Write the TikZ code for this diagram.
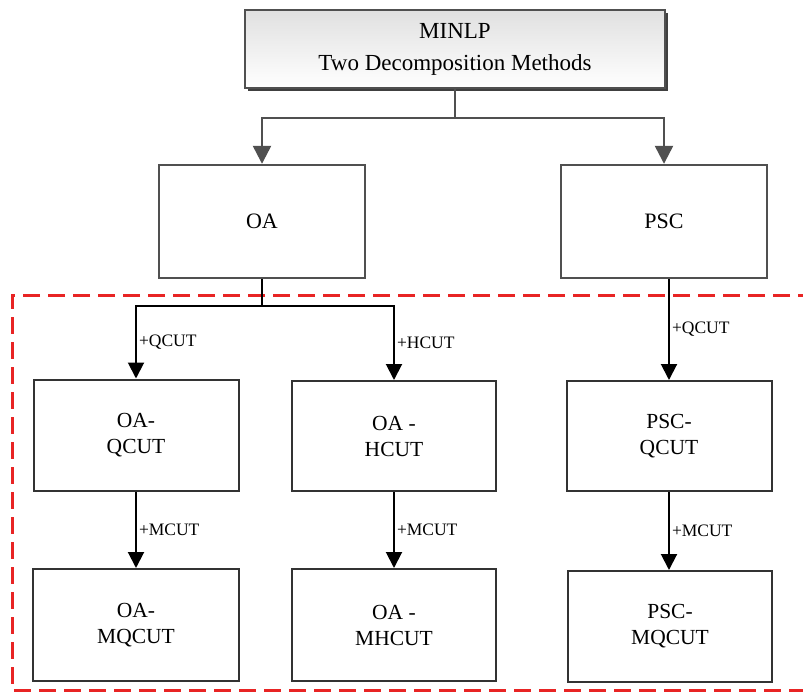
\documentclass[tikz,border=0pt]{standalone}
\usepackage{fontspec}
\setmainfont{Liberation Serif}
\usetikzlibrary{arrows.meta,shadows}
\definecolor{framered}{RGB}{232,36,36}
\definecolor{topgray}{RGB}{80,80,80}
\begin{document}
\begin{tikzpicture}[x=1pt,y=-1pt,
  topbox/.style={draw=topgray,line width=2.4pt,fill=white,inner sep=0pt,
    minimum width=206pt,minimum height=113pt,align=center,
    font=\fontsize{22}{26}\selectfont},
  cutbox/.style={draw=black!80,line width=2pt,fill=white,inner sep=0pt,
    minimum width=205pt,minimum height=111pt,align=center,
    font=\fontsize{21.5}{26}\selectfont},
  toparrow/.style={draw=topgray,line width=2.4pt,
    -{Triangle[width=18pt,length=18pt]}},
  cutarrow/.style={draw=black,line width=2pt,
    -{Triangle[width=16pt,length=16pt]}},
  cutlabel/.style={right,inner sep=2pt,font=\fontsize{17.5}{20}\selectfont}]
\useasboundingbox (0,0) rectangle (803,695);
\clip (0,0) rectangle (803,695);

% region holding the cut variants
\draw[framered,line width=3pt,dash pattern=on 17pt off 8pt]
  (815,295) -- (12,295) -- (12,690) -- (815,690);

% head node
\node[draw=topgray,line width=2.4pt,top color=black!12,bottom color=white,
  drop shadow={shadow xshift=3pt,shadow yshift=-3pt,fill=black!75,opacity=1},
  minimum width=420pt,minimum height=78pt,inner sep=0pt,align=center,
  font=\fontsize{23}{32}\selectfont]
  (minlp) at (455,49) {MINLP\\Two Decomposition Methods};

% decomposition methods
\node[topbox] (oa)  at (262,221.5) {OA};
\node[topbox] (psc) at (664,221.5) {PSC};

% cut variants
\node[cutbox] (oaq)   at (136,435)   {OA-\\QCUT};
\node[cutbox,minimum width=204pt,minimum height=110pt] (oah) at (394,436) {OA -\\HCUT};
\node[cutbox,minimum height=110pt] (pscq) at (669,436) {PSC-\\QCUT};
\node[cutbox,minimum width=206pt,minimum height=112pt] (oamq) at (136,625) {OA-\\MQCUT};
\node[cutbox,minimum width=204pt,minimum height=112pt] (oamh) at (394,625) {OA -\\MHCUT};
\node[cutbox,minimum width=204pt] (pscmq) at (670,626.5) {PSC-\\MQCUT};

% head to methods
\draw[toparrow] (minlp.south) -- ++(0,29) -| (oa.north);
\draw[toparrow] (minlp.south) -- ++(0,29) -| (psc.north);

% methods to cut variants
\draw[cutarrow] (oa.south) -- ++(0,27) -| node[cutlabel,pos=0.75] {+QCUT} (oaq.north);
\draw[cutarrow] (oa.south) -- ++(0,27) -| node[cutlabel,pos=0.75] {+HCUT} (oah.north);
\draw[cutarrow] (pscq.north |- psc.south) -- node[cutlabel] {+QCUT} (pscq.north);

\draw[cutarrow] (oaq) -- node[cutlabel] {+MCUT} (oamq);
\draw[cutarrow] (oah) -- node[cutlabel] {+MCUT} (oamh);
\draw[cutarrow] (pscq.south) -- node[cutlabel] {+MCUT} (pscmq.north -| pscq.south);
\end{tikzpicture}
\end{document}
